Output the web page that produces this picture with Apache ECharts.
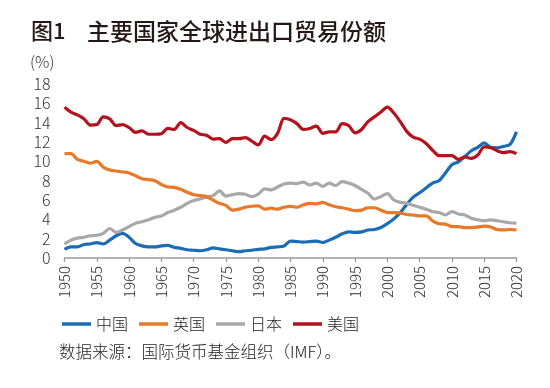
<!DOCTYPE html>
<html>
<head>
<meta charset="utf-8">
<script src="https://cdn.jsdelivr.net/npm/echarts@6/dist/echarts.min.js"></script>
<style>
html,body{margin:0;padding:0;background:#fff;}
#c{width:550px;height:388px;}
</style>
</head>
<body>
<div id="c"></div>
<script>
var years = ['1950','1951','1952','1953','1954','1955','1956','1957','1958','1959',
'1960','1961','1962','1963','1964','1965','1966','1967','1968','1969',
'1970','1971','1972','1973','1974','1975','1976','1977','1978','1979',
'1980','1981','1982','1983','1984','1985','1986','1987','1988','1989',
'1990','1991','1992','1993','1994','1995','1996','1997','1998','1999',
'2000','2001','2002','2003','2004','2005','2006','2007','2008','2009',
'2010','2011','2012','2013','2014','2015','2016','2017','2018','2019','2020'];

var china = [0.9,1.15,1.15,1.4,1.45,1.6,1.45,1.85,2.3,2.55,
2.15,1.5,1.25,1.15,1.15,1.25,1.3,1.1,1.0,0.85,
0.8,0.75,0.85,1.05,0.95,0.85,0.75,0.65,0.75,0.8,
0.9,0.95,1.1,1.15,1.25,1.75,1.7,1.65,1.7,1.75,
1.6,1.85,2.15,2.5,2.7,2.65,2.7,2.9,2.95,3.15,
3.55,4.05,4.7,5.55,6.3,6.75,7.25,7.75,8.0,8.8,
9.65,9.95,10.5,11.1,11.45,11.9,11.45,11.4,11.55,11.75,13.05];

var uk = [10.8,10.8,10.2,10.0,9.8,10.0,9.4,9.1,9.0,8.9,
8.8,8.5,8.2,8.1,8.0,7.6,7.35,7.3,7.1,6.8,
6.55,6.45,6.35,6.0,5.65,5.45,4.95,5.05,5.25,5.35,
5.4,5.05,5.15,5.05,5.25,5.35,5.25,5.5,5.65,5.6,
5.75,5.5,5.3,5.2,5.05,4.9,4.95,5.2,5.2,4.95,
4.7,4.7,4.65,4.5,4.45,4.35,4.35,3.85,3.55,3.5,
3.25,3.25,3.15,3.15,3.2,3.3,3.2,2.95,2.9,2.95,2.9];

var japan = [1.45,1.85,2.05,2.15,2.3,2.35,2.55,3.05,2.65,2.9,
3.25,3.6,3.75,3.95,4.2,4.35,4.7,4.95,5.25,5.65,
5.95,6.1,6.3,6.45,6.95,6.4,6.55,6.65,6.6,6.35,
6.6,7.15,7.05,7.35,7.65,7.75,7.7,7.85,7.55,7.75,
7.4,7.75,7.5,7.9,7.75,7.5,7.1,6.7,6.1,6.35,
6.65,6.0,5.75,5.65,5.45,5.25,5.05,4.8,4.7,4.45,
4.8,4.55,4.45,4.1,3.95,3.85,3.95,3.85,3.75,3.65,3.6];

var usa = [15.6,15.1,14.8,14.4,13.75,13.8,14.6,14.4,13.7,13.8,
13.5,13.0,13.15,12.8,12.8,12.85,13.4,13.3,14.0,13.5,
13.2,12.8,12.7,12.3,12.35,11.95,12.35,12.35,12.45,12.1,
11.7,12.6,12.25,12.9,14.45,14.3,13.9,13.3,13.4,13.65,
12.9,13.05,13.05,13.9,13.7,12.95,13.3,14.1,14.6,15.1,
15.6,15.0,14.1,13.1,12.5,12.3,11.85,11.15,10.6,10.6,
10.6,10.2,10.45,10.3,10.65,11.5,11.4,11.1,10.9,11.0,10.8];

var seriesNames = ['中国','英国','日本','美国'];
var seriesColors = ['#1a6db4','#e8782a','#a8a8a8','#b3131c'];
var titleMain = '主要国家全球进出口贸易份额';
var titleFig = '图1';
var unitText = '(%)';
var sourceText = '数据来源：国际货币基金组织（IMF）。';

var chart = echarts.init(document.getElementById('c'), null, {renderer:'canvas'});
var FONT = '"Noto Sans CJK SC", "Noto Sans", sans-serif';
var allData = [china, uk, japan, usa];
var series = allData.map(function(d, i){
  return {
    name: seriesNames[i], type: 'line', data: d, showSymbol: false, symbol: 'none',
    smooth: 0.3, lineStyle: {width: 3.2, color: seriesColors[i]}, itemStyle: {color: seriesColors[i]},
    z: i === 1 ? 3 : 2
  };
});
chart.setOption({
  animation: false,
  backgroundColor: '#fff',
  textStyle: {fontFamily: FONT},
  grid: {left: 64.5, right: 33.5, top: 84, bottom: 130},
  legend: {
    data: seriesNames, left: 57, top: 311, icon: 'rect', itemWidth: 29, itemHeight: 3.5,
    itemGap: 11, textStyle: {fontSize: 16, color: '#222', fontFamily: FONT, fontWeight: 300}
  },
  xAxis: {
    type: 'category', data: years, boundaryGap: false,
    axisLine: {lineStyle: {color: '#9a9a9a', width: 1.5}},
    axisTick: {interval: 4, length: 4, inside: false, lineStyle: {color: '#9a9a9a', width: 1.3}},
    axisLabel: {interval: 4, rotate: 90, margin: 8, fontSize: 15, color: '#333', fontFamily: FONT, fontWeight: 300},
    splitLine: {show: false}
  },
  yAxis: {
    type: 'value', min: 0, max: 18, interval: 2,
    axisLine: {show: false}, axisTick: {show: false}, splitLine: {show: false},
    axisLabel: {margin: 14, fontSize: 16, color: '#333', fontFamily: FONT, fontWeight: 300, padding: [0,0,5,0]}
  },
  graphic: [
    {type: 'text', left: 31, top: 20, style: {text: titleFig, font: '500 22px ' + FONT, fill: '#231815'}},
    {type: 'text', left: 87, top: 20, style: {text: titleMain, font: '500 23px ' + FONT, fill: '#231815'}},
    {type: 'text', left: 30, top: 54, style: {text: unitText, font: '300 16px ' + FONT, fill: '#333'}},
    {type: 'text', left: 59, top: 343, style: {text: sourceText, font: '300 16.5px ' + FONT, fill: '#222'}}
  ],
  series: series
});
</script>
</body>
</html>
